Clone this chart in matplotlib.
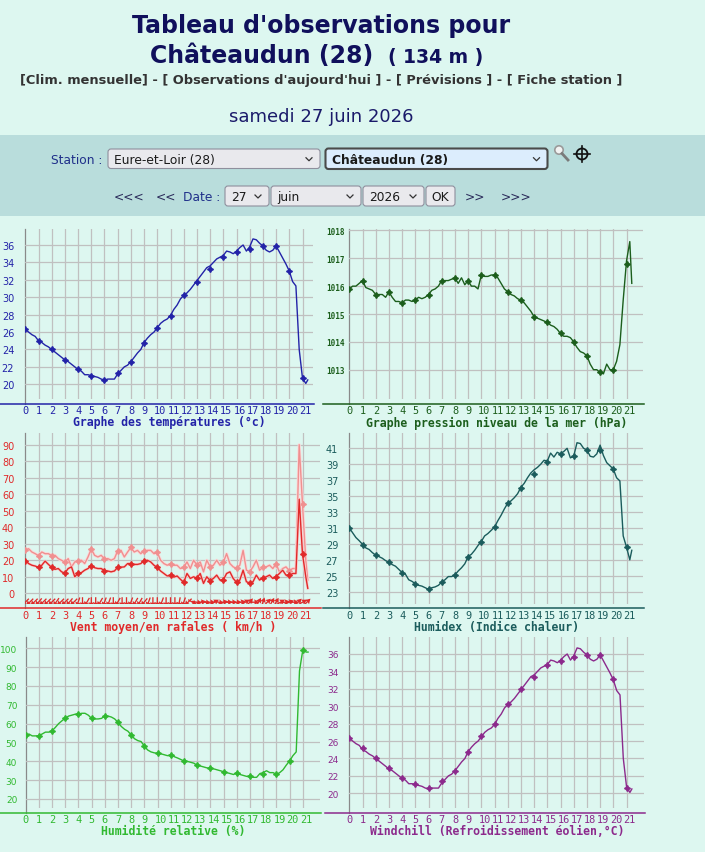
import matplotlib.pyplot as plt
import numpy as np
from matplotlib.patches import FancyBboxPatch, Circle

W, H = 705, 853
BG = "#ddf7f0"
BAND = "#b9dddc"
GRID = "#c0c0c0"
MONO = "DejaVu Sans Mono"
NARROW = ["Liberation Sans Narrow", "DejaVu Sans"]
HOUR_PX = 13.2

# ---- data (6-min obs read every quarter hour, then the last obs) ----
hours = list(np.arange(0, 21.5, 0.25)) + [21.4]
marker_hours = list(range(22))

temp_line = [
    26.3, 26.0, 25.7, 25.5, 25.0, 24.8, 24.5, 24.3, 24.0, 23.7, 23.4, 23.1,
    22.8, 22.6, 22.3, 22.0, 21.7, 21.5, 21.1, 21.1, 21.0, 20.9, 20.8, 20.6,
    20.5, 20.6, 20.6, 20.6, 21.2, 21.6, 22.0, 22.2, 22.6, 23.1, 23.6, 24.0,
    24.8, 25.3, 25.7, 26.0, 26.5, 27.0, 27.3, 27.5, 27.9, 28.6, 29.1, 29.8,
    30.2, 30.5, 30.9, 31.4, 31.9, 32.4, 32.9, 33.4, 33.6, 34.0, 34.4, 34.6,
    34.8, 35.3, 35.2, 35.0, 35.3, 35.7, 36.0, 35.3, 35.8, 36.7, 36.6, 36.2,
    35.9, 35.4, 35.2, 35.4, 35.9, 35.2, 34.5, 33.8, 33.0, 31.8, 31.3, 24.0,
    20.7, 20.1, 20.5,
]
temp_marks = [26.3, 25.0, 24.0, 22.8, 21.7, 21.0, 20.5, 21.3, 22.6, 24.7, 26.5,
              27.8, 30.2, 31.8, 33.2, 34.6, 35.2, 35.5, 35.9, 35.9, 33.0, 20.7]

pres_line = [
    1015.9, 1016.0, 1016.0, 1016.1, 1016.2, 1015.95, 1015.9, 1015.85,
    1015.7, 1015.7, 1015.7, 1015.6, 1015.8, 1015.6, 1015.45, 1015.45,
    1015.4, 1015.5, 1015.5, 1015.45, 1015.5, 1015.6, 1015.55, 1015.6,
    1015.7, 1015.85, 1015.9, 1016.0, 1016.2, 1016.2, 1016.2, 1016.25,
    1016.3, 1016.1, 1016.3, 1016.05, 1016.2, 1016.0, 1016.0, 1015.9,
    1016.4, 1016.35, 1016.35, 1016.4, 1016.4, 1016.3, 1016.1, 1015.9,
    1015.8, 1015.7, 1015.65, 1015.55, 1015.5, 1015.4, 1015.25, 1015.1,
    1014.9, 1014.85, 1014.8, 1014.75, 1014.7, 1014.6, 1014.55, 1014.45,
    1014.3, 1014.2, 1014.2, 1014.15, 1014.0, 1013.8, 1013.65, 1013.6,
    1013.5, 1013.2, 1013.0, 1013.0, 1012.9, 1012.85, 1013.2, 1013.0,
    1013.0, 1013.3, 1013.9, 1015.5, 1016.9, 1017.6, 1016.1,
]
pres_marks = [1015.9, 1016.2, 1015.7, 1015.8, 1015.4, 1015.5, 1015.7, 1016.2,
              1016.3, 1016.2, 1016.4, 1016.4, 1015.8, 1015.5, 1014.9, 1014.7,
              1014.3, 1014.0, 1013.5, 1012.9, 1013.0, 1016.8]

wind_line = [
    19.8, 18, 17, 16.5, 15.7, 17, 19.5, 17.5, 15.7, 14.5, 15, 13,
    12.3, 15, 16, 10, 12.3, 12.5, 14, 15, 16.7, 15.5, 15, 15,
    13.7, 13.5, 13, 13.5, 15.7, 15.8, 16, 18, 18, 17.5, 17.5, 18,
    19.8, 20, 19, 17, 15.7, 13.5, 12, 10.5, 10.9, 9.8, 10.5, 8.5,
    6.7, 12, 9, 10, 9.1, 12, 6, 10, 7.7, 9, 11, 8,
    8.1, 12, 13, 9, 6.7, 8, 14, 7, 6.3, 7, 11, 8,
    9.5, 10, 11, 9, 10.1, 12, 14, 11, 10.9, 12, 12, 57,
    23.8, 10, 3,
]
wind_marks = [19.8, 15.7, 15.7, 12.3, 12.3, 16.7, 13.7, 15.7, 18.0, 19.8, 15.7,
              10.9, 6.7, 9.1, 7.7, 8.1, 6.7, 6.3, 9.5, 10.1, 10.9, 23.8]

gust_line = [
    26.4, 27, 25, 24, 22.8, 25, 24, 24, 22.8, 23, 21, 20,
    18.8, 21, 16, 19, 19.8, 20, 18, 22, 26.8, 23, 22, 23,
    20.8, 21, 20, 21, 25.8, 26, 22, 25, 27.8, 25, 26, 24,
    25.8, 26, 26, 24, 24.8, 20, 18, 17, 17.8, 17, 17, 15,
    15.7, 19, 15, 20, 17.2, 19, 13, 20, 16.1, 17, 20, 17,
    18.8, 24, 18, 16, 15.1, 17, 26, 14, 13.1, 16, 20, 14,
    15.7, 16, 17, 15, 17.8, 13, 15, 16, 13.7, 15, 15, 90,
    54, 20, 8,
]
gust_marks = [26.4, 22.8, 22.8, 18.8, 19.8, 26.8, 20.8, 25.8, 27.8, 25.8, 24.8,
              17.8, 15.7, 17.2, 16.1, 18.8, 15.1, 13.1, 15.7, 17.8, 13.7, 54.0]

# direction the arrow points to (deg, 0 = up), one every 20 min
arrow_hours = [i / 3 for i in range(65)]
arrow_dirs = [225, 225, 225, 220, 225, 225, 225, 215, 225, 225, 220, 225,
              200, 180, 210, 180, 180, 210, 200, 200, 180, 210, 180, 180,
              200, 210, 210, 220, 200, 180, 180, 200, 180, 180, 180, 190,
              200, 225, 120, 100, 80, 100, 90, 60, 100, 80, 90, 90,
              90, 80, 60, 40, 90, 30, 20, 45, 30, 30, 60, 80,
              70, 90, 45, 60, 45]

humidex_line = [
    31.0, 30.4, 29.8, 29.4, 28.95, 28.5, 28.3, 27.9, 27.6, 27.4, 27.2, 26.9,
    26.7, 26.4, 26.2, 25.8, 25.4, 25.2, 24.5, 24.3, 24.0, 23.8, 23.7, 23.5,
    23.3, 23.5, 23.6, 23.8, 24.2, 24.5, 24.9, 24.9, 25.1, 25.6, 26.0, 26.5,
    27.4, 27.7, 28.2, 28.8, 29.3, 30.0, 30.3, 30.7, 31.1, 31.9, 32.6, 33.4,
    34.1, 34.4, 34.8, 35.3, 36.1, 36.6, 37.3, 37.9, 38.3, 38.6, 39.0, 39.5,
    39.4, 40.4, 39.9, 40.5, 40.3, 40.6, 41.0, 39.8, 40.0, 41.7, 41.6, 41.0,
    40.8, 40.0, 39.9, 40.3, 41.4, 40.1, 39.2, 38.8, 38.4, 37.3, 36.9, 30.0,
    28.6, 27.0, 28.2,
]
humidex_marks = [30.95, 28.9, 27.6, 26.7, 25.3, 24.0, 23.3, 24.2, 25.1, 27.4,
                 29.3, 31.1, 34.1, 36.0, 37.8, 39.3, 40.3, 40.0, 40.8, 40.8,
                 38.4, 28.6]

hum_line = [
    54, 54.5, 53.5, 53.5, 53.6, 54.5, 55.5, 55.5, 56.1, 58, 60, 61.5,
    62.8, 64, 64.5, 65, 65.1, 65.5, 65.5, 64.5, 62.8, 62.5, 62.5, 62.8,
    64.1, 64, 63.5, 62.5, 60.7, 58.5, 57, 56, 54, 52, 51, 50.5,
    48, 46, 45, 44.5, 44.2, 44, 43.5, 43, 43.4, 42.5, 41.8, 41,
    40.2, 40, 39.5, 39, 37.9, 37.5, 37, 36.5, 36.3, 36, 35.5, 35,
    34.5, 34, 33.5, 33, 34.0, 33, 32.5, 32, 32.2, 31.5, 31.5, 33.5,
    34, 35, 34, 34, 33.1, 34, 35.5, 38, 40.2, 43, 45, 88,
    99.1, 98, 98,
]
hum_marks = [54.0, 53.6, 56.1, 62.8, 65.1, 62.8, 64.1, 60.7, 54.0, 48.0, 44.2,
             43.4, 40.2, 37.9, 36.3, 34.5, 34.0, 32.2, 33.1, 33.1, 40.2, 99.1]

windchill_line = list(temp_line)
windchill_marks = [26.4, 25.2, 24.1, 22.9, 21.8, 21.1, 20.6, 21.4, 22.6, 24.8,
                   26.6, 28.0, 30.3, 32.0, 33.4, 34.7, 35.2, 35.6, 35.9, 35.9,
                   33.1, 20.6]


fig = plt.figure(figsize=(W / 100, H / 100), dpi=100, facecolor=BG)

# page layer in pixel coordinates
page = fig.add_axes([0, 0, 1, 1])
page.set_xlim(0, W)
page.set_ylim(H, 0)
page.axis("off")
page.add_patch(plt.Rectangle((0, 136), W, 81, color=BAND, lw=0))


def make_chart(x0, right, top, bottom, ref, axis_left, color, yticks, title,
               ysize=7, yweight="normal", yfamily="DejaVu Sans", ypad=8):
    ax = fig.add_axes([x0 / W, 1 - bottom / H, (right - x0) / W, (bottom - top) / H])
    ax.set_facecolor("none")
    (v1, p1), (v2, p2) = ref
    ppu = (p2 - p1) / (v1 - v2)
    ax.set_xlim(0, (right - x0) / HOUR_PX)
    ax.set_ylim(v2 - (bottom - p2) / ppu, v1 + (p1 - top) / ppu)
    for s in ax.spines.values():
        s.set_visible(False)
    for h in range(1, 22):
        ax.axvline(h, color=GRID, lw=0.9, zorder=1)
    for v in yticks:
        ax.axhline(v, color=GRID, lw=0.9, zorder=1)
    ax.set_xticks([])
    ax.set_yticks(yticks)
    ax.set_yticklabels([str(v) for v in yticks])
    ax.tick_params(axis="y", length=0, pad=ypad, labelcolor=color, labelsize=ysize)
    for lbl in ax.get_yticklabels():
        lbl.set_fontfamily(yfamily)
        lbl.set_fontweight(yweight)
    axis_y = bottom + 4.5
    page.plot([x0, x0], [top, axis_y], color="#8a8a8a", lw=0.9)
    page.plot([axis_left, right + 1], [axis_y, axis_y], color=color, lw=1.1)
    for h in range(22):
        ax.annotate(str(h), xy=(h, 0), xycoords=ax.get_xaxis_transform(),
                    xytext=(-3, -11.5), textcoords="offset pixels",
                    ha="left", va="center", fontfamily=MONO, fontsize=7.4,
                    color=color, annotation_clip=False)
    ax.annotate(title, xy=(0.5, 0), xycoords="axes fraction",
                xytext=(0, -23), textcoords="offset pixels", ha="center",
                va="center", fontfamily=MONO, fontweight="bold", fontsize=8.3,
                color=color, annotation_clip=False)
    return ax


def curve(ax, line, marks, color, lw=1.0, zorder=3):
    ax.plot(hours, line, color=color, lw=lw, zorder=zorder)
    ax.plot(marker_hours, marks, ls="none", marker=(4, 1, 0), ms=4.3,
            color=color, zorder=zorder + 1)


# temperature
c = "#2323a8"
ax = make_chart(25.3, 313, 230, 400, ((36, 246), (20, 385.3)), 0, c,
                [20, 22, 24, 26, 28, 30, 32, 34, 36],
                "Graphe des températures (°c)")
curve(ax, temp_line, temp_marks, c)

# pressure
c = "#1c5e1c"
ax = make_chart(349.3, 643.3, 230, 400, ((1017, 259.3), (1013, 370.7)), 323, c,
                [1013, 1014, 1015, 1016, 1017, 1018],
                "Graphe pression niveau de la mer (hPa)",
                ysize=5.5, yweight="bold", yfamily=MONO, ypad=3)
curve(ax, pres_line, pres_marks, c)

# wind
c = "#e02a2a"
ax = make_chart(25.3, 320, 434, 604.5, ((90, 445.7), (0, 594.3)), 0, c,
                [0, 10, 20, 30, 40, 50, 60, 70, 80, 90],
                "Vent moyen/en rafales ( km/h )")
ax.plot(hours, gust_line, color="#fbdada", lw=2.2, zorder=2)
curve(ax, gust_line, gust_marks, "#f09090")
ax.plot(hours, wind_line, color="#f8cccc", lw=2.0, zorder=4)
curve(ax, wind_line, wind_marks, c, zorder=5)
rad = np.radians(arrow_dirs)
ax.quiver(arrow_hours, [-5.4] * len(arrow_hours), 10 * np.sin(rad), 10 * np.cos(rad),
          angles="uv", scale_units="dots", scale=1, units="dots", width=1.3,
          headwidth=4.5, headlength=3.8, headaxislength=3.4, pivot="middle",
          color=c, zorder=6)

# humidex
c = "#1b5c5c"
ax = make_chart(349.3, 643.3, 434, 604.5, ((41, 449.3), (23, 592.7)), 323, c,
                [23, 25, 27, 29, 31, 33, 35, 37, 39, 41],
                "Humidex (Indice chaleur)")
curve(ax, humidex_line, humidex_marks, c)

# humidity
c = "#31b931"
ax = make_chart(25.6, 320, 638, 809, ((100, 649.3), (20, 800)), 0, c,
                [20, 30, 40, 50, 60, 70, 80, 90, 100],
                "Humidité relative (%)", ysize=6.5, ypad=6)
curve(ax, hum_line, hum_marks, c)

# windchill
c = "#8c2a8c"
ax = make_chart(349.4, 644, 638, 809, ((36, 655), (20, 794.3)), 324.6, c,
                [20, 22, 24, 26, 28, 30, 32, 34, 36],
                "Windchill (Refroidissement éolien,°C)", ysize=6.5, ypad=8)
curve(ax, windchill_line, windchill_marks, c)

# ---- page header ----
navy = "#10105c"
page.text(321.5, 33, "Tableau d'observations pour", ha="center", va="baseline",
          fontsize=17, fontweight="bold", color=navy)
page.text(150, 63, "Châteaudun (28)", ha="left", va="baseline",
          fontsize=17, fontweight="bold", color=navy)
page.text(388, 63, "( 134 m )", ha="left", va="baseline",
          fontsize=13.5, fontweight="bold", color=navy)
page.text(321.5, 83.5,
          "[Clim. mensuelle] - [ Observations d'aujourd'hui ] - [ Prévisions ] - [ Fiche station ]",
          ha="center", va="baseline", fontsize=9.4, fontweight="bold", color="#333333")
page.text(321.5, 121.5, "samedi 27 juin 2026", ha="center", va="baseline",
          fontsize=13, color="#1a1a6a")


def select_box(x1, x2, y1, y2, label, fc="#e9e9ed", ec="#8f8f9d", lw=0.8,
               bold=False, chevron=True):
    page.add_patch(FancyBboxPatch((x1, y1), x2 - x1, y2 - y1,
                                  boxstyle="round,pad=0,rounding_size=3",
                                  fc=fc, ec=ec, lw=lw))
    page.text(x1 + 6, (y1 + y2) / 2 + 0.5, label, ha="left", va="center",
              fontsize=8.8, family=NARROW, color="#1a1a1a",
              fontweight="bold" if bold else "normal")
    if chevron:
        cx, cy = x2 - 11, (y1 + y2) / 2
        page.plot([cx - 3, cx, cx + 3], [cy - 1, cy + 2, cy - 1], color="#333333", lw=0.9)


page.text(102, 160, "Station :", ha="right", va="center", fontsize=8.8,
          family=NARROW, color="#1f2f8a")
select_box(108, 320, 150, 169.5, "Eure-et-Loir (28)")
select_box(325.5, 547.5, 149.5, 170, "Châteaudun (28)", fc="#dcedfd", ec="#4a4a4a",
           lw=1.5, bold=True)
page.add_patch(Circle((559, 151), 4.2, fc="#f2f2f2", ec="#9a9a9a", lw=1.2))
page.plot([562, 568], [154.5, 161], color="#7a7a7a", lw=2)
page.add_patch(Circle((582, 155), 5.5, fc="none", ec="#111111", lw=1.3))
page.plot([582, 582], [147, 163], color="#111111", lw=1.2)
page.plot([574, 590], [155, 155], color="#111111", lw=1.2)

page.text(114, 197, "<<<", ha="left", va="center", fontsize=8.8, family=NARROW,
          color="#2a2a5a")
page.text(156, 197, "<<", ha="left", va="center", fontsize=8.8, family=NARROW,
          color="#2a2a5a")
page.text(183, 197, "Date :", ha="left", va="center", fontsize=8.8, family=NARROW,
          color="#1f2f8a")
select_box(225, 269, 187, 207, "27")
select_box(271, 361, 187, 207, "juin")
select_box(363, 424, 187, 207, "2026")
select_box(426, 455, 187, 207, "", chevron=False)
page.text(440.5, 197.5, "OK", ha="center", va="center", fontsize=8.8,
          family=NARROW, color="#1a1a1a")
page.text(465, 197, ">>", ha="left", va="center", fontsize=8.8, family=NARROW,
          color="#2a2a5a")
page.text(501, 197, ">>>", ha="left", va="center", fontsize=8.8, family=NARROW,
          color="#2a2a5a")

fig.savefig("out.png", dpi=100, facecolor=BG)
